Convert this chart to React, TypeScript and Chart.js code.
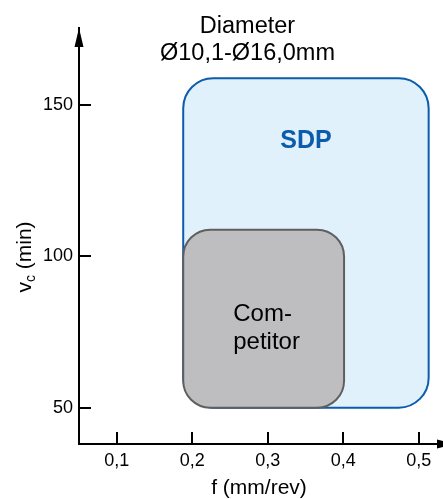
import React, { useEffect, useRef } from "react";
import { Chart, registerables } from "chart.js";

Chart.register(...registerables);

// ---- data ----
const xTickValues = [0.1, 0.2, 0.3, 0.4, 0.5];
const yTickValues = [50, 100, 150];
const xAxisRange = [0.05, 0.532];
const yAxisRange = [38, 175.4];

const seriesNames = ["SDP", "Competitor"];
const feedMin = [0.188, 0.188];
const feedMax = [0.513, 0.401];
const speedMin = [50, 50];
const speedMax = [158.8, 108.8];

const titleLines = ["Diameter", "Ø10,1-Ø16,0mm"];
const xAxisTitle = "f (mm/rev)";
const yAxisTitleParts = ["v", "c", " (min)"];
const boxTextLines = [["SDP"], ["Com-", "petitor"]];

// ---- styles ----
const FONT = "'Liberation Sans', Arial, Helvetica, sans-serif";
const fillColors = ["#E0F1FC", "#BEBEC0"];
const borderColors = ["#0B5CAB", "#5F5F5F"];
const cornerRadii = [30, 27];

const fmtDec = (v: number) => Number(v).toFixed(1).replace(".", ",");

const drawPlugin = {
  id: "customDraw",
  beforeDatasetsDraw(chart: any) {
    const { ctx } = chart;
    const xs = chart.scales.x;
    const ys = chart.scales.y;
    chart.data.datasets.forEach((ds: any, i: number) => {
      const p = ds.data;
      const l = xs.getPixelForValue(p[0].x);
      const r = xs.getPixelForValue(p[1].x);
      const t = ys.getPixelForValue(p[1].y);
      const b = ys.getPixelForValue(p[0].y);
      ctx.save();
      ctx.beginPath();
      ctx.roundRect(l, t, r - l, b - t, cornerRadii[i]);
      ctx.fillStyle = fillColors[i];
      ctx.fill();
      ctx.lineWidth = 2;
      ctx.strokeStyle = borderColors[i];
      ctx.stroke();
      ctx.restore();
    });
  },
  afterDatasetsDraw(chart: any) {
    const { ctx } = chart;
    const xs = chart.scales.x;
    const ys = chart.scales.y;
    chart.data.datasets.forEach((ds: any, i: number) => {
      const p = ds.data;
      const l = xs.getPixelForValue(p[0].x);
      const r = xs.getPixelForValue(p[1].x);
      const t = ys.getPixelForValue(p[1].y);
      const b = ys.getPixelForValue(p[0].y);
      ctx.save();
      ctx.textBaseline = "alphabetic";
      if (i === 0) {
        ctx.font = `bold 25px ${FONT}`;
        ctx.fillStyle = borderColors[0];
        ctx.textAlign = "center";
        ctx.fillText(boxTextLines[0][0], (l + r) / 2, t + 70);
      } else {
        ctx.font = `24px ${FONT}`;
        ctx.fillStyle = "#000";
        ctx.textAlign = "left";
        const cy = (t + b) / 2;
        boxTextLines[1].forEach((line, k) => {
          ctx.fillText(line, l + 50, cy + 2 + k * 28);
        });
      }
      ctx.restore();
    });
  },
  afterDraw(chart: any) {
    const { ctx, chartArea } = chart;
    const xs = chart.scales.x;
    const ys = chart.scales.y;
    const ax = Math.round(chartArea.left);
    const ay = Math.round(chartArea.bottom);
    ctx.save();
    ctx.strokeStyle = "#000";
    ctx.fillStyle = "#000";
    ctx.lineWidth = 2;
    // tick marks
    ys.ticks.forEach((tk: any) => {
      const py = Math.round(ys.getPixelForValue(tk.value));
      ctx.beginPath();
      ctx.moveTo(ax, py);
      ctx.lineTo(ax + 12, py);
      ctx.stroke();
    });
    xs.ticks.forEach((tk: any) => {
      const px = Math.round(xs.getPixelForValue(tk.value));
      ctx.beginPath();
      ctx.moveTo(px, ay);
      ctx.lineTo(px, ay - 12);
      ctx.stroke();
    });
    // arrows
    ctx.beginPath();
    ctx.moveTo(ax, chartArea.top);
    ctx.lineTo(ax - 4.5, chartArea.top + 19);
    ctx.lineTo(ax + 4.5, chartArea.top + 19);
    ctx.closePath();
    ctx.fill();
    ctx.beginPath();
    ctx.moveTo(chartArea.right + 13, ay);
    ctx.lineTo(chartArea.right - 6, ay - 4.5);
    ctx.lineTo(chartArea.right - 6, ay + 4.5);
    ctx.closePath();
    ctx.fill();

    // title
    ctx.textAlign = "center";
    ctx.textBaseline = "alphabetic";
    ctx.font = `23.5px ${FONT}`;
    ctx.fillText(titleLines[0], 247.5, 32.5);
    ctx.fillText(titleLines[1], 247.5, 59.5);

    // x axis title
    ctx.font = `21px ${FONT}`;
    ctx.fillText(xAxisTitle, 259, 494);

    // y axis title (rotated, subscript)
    ctx.translate(31, 257);
    ctx.rotate(-Math.PI / 2);
    ctx.textAlign = "left";
    const mainFont = `21px ${FONT}`;
    const subFont = `14px ${FONT}`;
    ctx.font = mainFont;
    const w0 = ctx.measureText(yAxisTitleParts[0]).width;
    const w2 = ctx.measureText(yAxisTitleParts[2]).width;
    ctx.font = subFont;
    const w1 = ctx.measureText(yAxisTitleParts[1]).width;
    let x0 = -(w0 + w1 + w2) / 2;
    ctx.font = mainFont;
    ctx.fillText(yAxisTitleParts[0], x0, 0);
    x0 += w0;
    ctx.font = subFont;
    ctx.fillText(yAxisTitleParts[1], x0, 4);
    x0 += w1;
    ctx.font = mainFont;
    ctx.fillText(yAxisTitleParts[2], x0, 0);
    ctx.restore();
  },
};

export default function App() {
  const ref = useRef<HTMLCanvasElement | null>(null);
  useEffect(() => {
    if (!ref.current) return;
    const chart = new Chart(ref.current, {
      type: "scatter",
      data: {
        datasets: seriesNames.map((name, i) => ({
          label: name,
          data: [
            { x: feedMin[i], y: speedMin[i] },
            { x: feedMax[i], y: speedMax[i] },
          ],
          pointRadius: 0,
          backgroundColor: fillColors[i],
          borderColor: borderColors[i],
        })),
      },
      options: {
        animation: false,
        responsive: false,
        layout: { padding: { left: 0, right: 0, top: 28, bottom: 0 } },
        plugins: {
          legend: { display: false },
          tooltip: { enabled: false },
          title: { display: false },
        },
        scales: {
          x: {
            type: "linear",
            min: xAxisRange[0],
            max: xAxisRange[1],
            afterBuildTicks: (s: any) => {
              s.ticks = xTickValues.map((v) => ({ value: v }));
            },
            afterFit: (s: any) => {
              s.height = 55;
            },
            grid: { display: false, drawTicks: false },
            border: { display: true, color: "#000", width: 2 },
            ticks: {
              color: "#000",
              font: { family: FONT, size: 18 },
              padding: 6,
              maxRotation: 0,
              autoSkip: false,
              callback: (v: any) => fmtDec(v),
            },
          },
          y: {
            type: "linear",
            min: yAxisRange[0],
            max: yAxisRange[1],
            afterBuildTicks: (s: any) => {
              s.ticks = yTickValues.map((v) => ({ value: v }));
            },
            afterFit: (s: any) => {
              s.width = 79;
            },
            grid: { display: false, drawTicks: false },
            border: { display: true, color: "#000", width: 2 },
            ticks: {
              color: "#000",
              font: { family: FONT, size: 18 },
              padding: 6,
              autoSkip: false,
              callback: (v: any) => String(v),
            },
          },
        },
      },
      plugins: [drawPlugin],
    } as any);
    return () => chart.destroy();
  }, []);
  return (
    <div style={{ position: "absolute", left: 0, top: 0, width: 443, height: 499, background: "#fff" }}>
      <canvas ref={ref} width={443} height={499} style={{ display: "block" }} />
    </div>
  );
}
